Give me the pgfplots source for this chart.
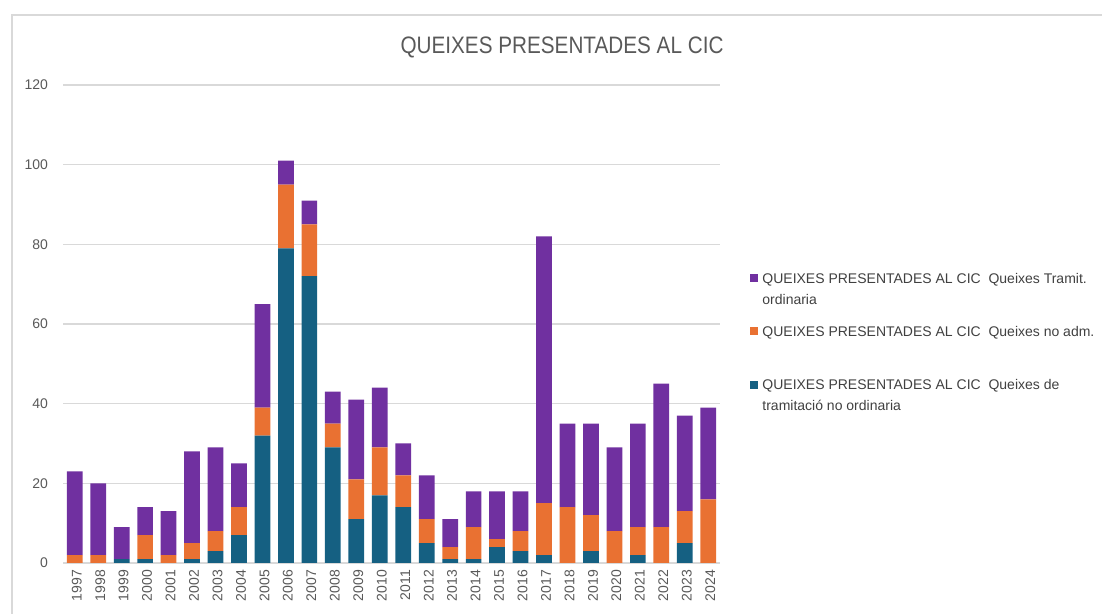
\documentclass[border=0pt]{standalone}
\usepackage{fontspec}
\setmainfont{Liberation Sans}
\newfontfamily\titlefont[FakeStretch=0.87]{Liberation Sans}
\usepackage{pgfplots}
\usepackage{pgfplotstable}
\pgfplotsset{compat=1.18}
\definecolor{cteal}{HTML}{156082}
\definecolor{corange}{HTML}{E97132}
\definecolor{cpurple}{HTML}{7030A0}
\definecolor{cgrid}{HTML}{D9D9D9}
\definecolor{ctick}{HTML}{595959}
\definecolor{clegend}{HTML}{404040}

\pgfplotstableread{
x year teal orange purple
0 1997 0 2 21
1 1998 0 2 18
2 1999 1 0 8
3 2000 1 6 7
4 2001 0 2 11
5 2002 1 4 23
6 2003 3 5 21
7 2004 7 7 11
8 2005 32 7 26
9 2006 79 16 6
10 2007 72 13 6
11 2008 29 6 8
12 2009 11 10 20
13 2010 17 12 15
14 2011 14 8 8
15 2012 5 6 11
16 2013 1 3 7
17 2014 1 8 9
18 2015 4 2 12
19 2016 3 5 10
20 2017 2 13 67
21 2018 0 14 21
22 2019 3 9 23
23 2020 0 8 21
24 2021 2 7 26
25 2022 0 9 36
26 2023 5 8 24
27 2024 0 16 23
}\datatable

\newcommand{\twol}[2]{\begin{tabular}[t]{@{}l@{}}#1\\#2\end{tabular}}

\begin{document}
\begin{tikzpicture}
\path[use as bounding box] (0,0) rectangle (551pt,307pt);
\draw[cgrid, line width=0.8pt] (6pt,-5pt) -- (6pt,299.5pt) -- (560pt,299.5pt);
\node[font=\titlefont\fontsize{11.9}{14}\selectfont, text=ctick] at (281pt,283.5pt) {QUEIXES PRESENTADES AL CIC};
\begin{axis}[
  at={(31.5pt,25.5pt)}, anchor=south west,
  scale only axis, width=328.5pt, height=239pt,
  ybar stacked, bar width=7.85pt,
  xmin=-0.5, xmax=27.5, ymin=0, ymax=120,
  ytick={0,20,...,120},
  xtick={0,...,27},
  xticklabels={1997,1998,1999,2000,2001,2002,2003,2004,2005,2006,2007,2008,2009,2010,2011,2012,2013,2014,2015,2016,2017,2018,2019,2020,2021,2022,2023,2024},
  axis line style={draw=none},
  major tick length=0pt,
  ymajorgrids, grid style={cgrid, line width=0.7pt},
  /pgf/number format/assume math mode=true,
  tick label style={font=\fontsize{7}{8}\selectfont, text=ctick},
  yticklabel style={xshift=-4pt},
  xticklabel style={rotate=90, anchor=east, yshift=-1pt},
  reverse legend,
  legend style={at={(1.0457,0.625)}, anchor=north west, draw=none, fill=none,
    font=\fontsize{7}{10.5}\selectfont, text=clegend,
    cells={anchor=base west}, row sep=13.75pt, inner sep=0pt},
]
\addplot[fill=cteal, draw=none, legend image code/.code={\fill[cteal] (0.5pt,0.6pt) rectangle (4.5pt,4.6pt);}] table[x=x, y=teal] {\datatable};
\addlegendentry{\twol{QUEIXES PRESENTADES AL CIC\ \ Queixes de}{tramitació no ordinaria}}
\addplot[fill=corange, draw=none, legend image code/.code={\fill[corange] (0.5pt,0.6pt) rectangle (4.5pt,4.6pt);}] table[x=x, y=orange] {\datatable};
\addlegendentry{\twol{QUEIXES PRESENTADES AL CIC\ \ Queixes no adm.}{\mbox{}}}
\addplot[fill=cpurple, draw=none, legend image code/.code={\fill[cpurple] (0.5pt,0.6pt) rectangle (4.5pt,4.6pt);}] table[x=x, y=purple] {\datatable};
\addlegendentry{\twol{QUEIXES PRESENTADES AL CIC\ \ Queixes Tramit.}{ordinaria}}
\end{axis}
\end{tikzpicture}
\end{document}
